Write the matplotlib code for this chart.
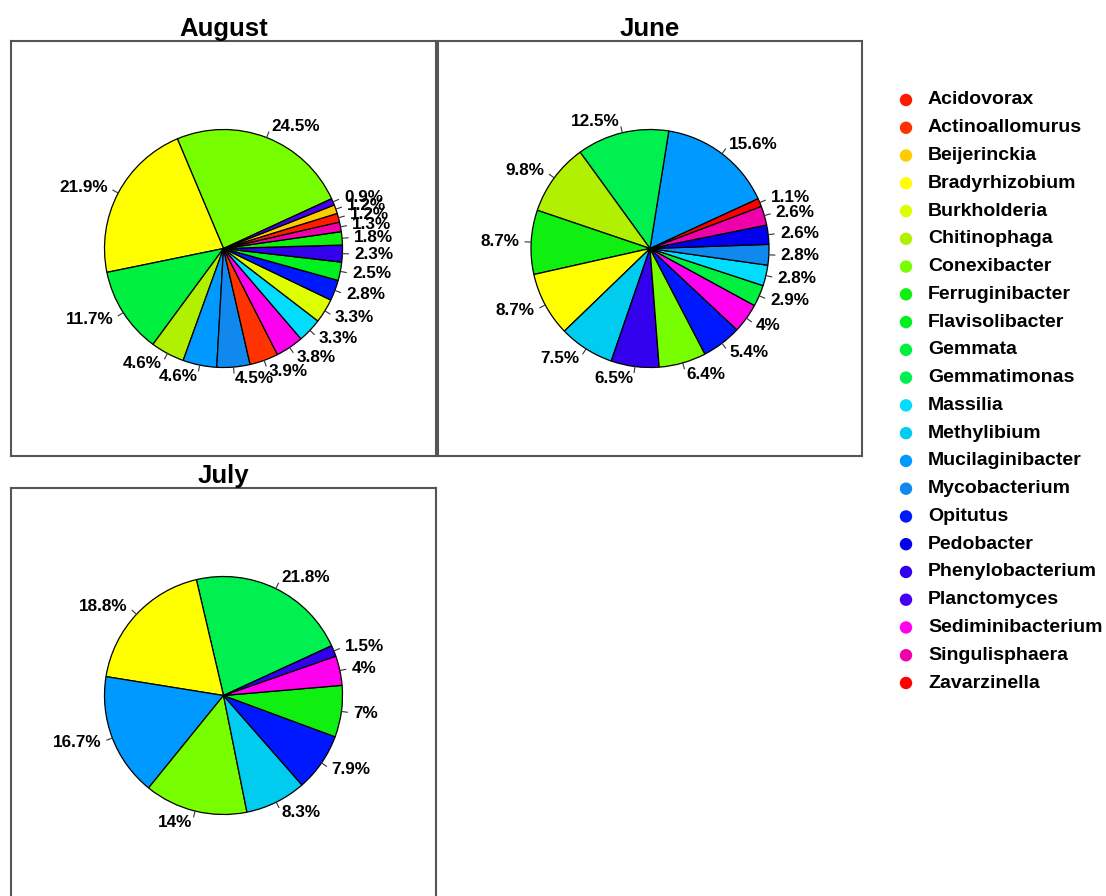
import numpy as np
import matplotlib
matplotlib.use("Agg")
import matplotlib.pyplot as plt

plt.rcParams['font.family'] = ['Liberation Sans', 'DejaVu Sans']
plt.rcParams['font.weight'] = 'bold'

# ---- data ----
genera = ["Acidovorax", "Actinoallomurus", "Beijerinckia", "Bradyrhizobium",
          "Burkholderia", "Chitinophaga", "Conexibacter", "Ferruginibacter",
          "Flavisolibacter", "Gemmata", "Gemmatimonas", "Massilia",
          "Methylibium", "Mucilaginibacter", "Mycobacterium", "Opitutus",
          "Pedobacter", "Phenylobacterium", "Planctomyces",
          "Sediminibacterium", "Singulisphaera", "Zavarzinella"]
genus_colors = ["#FF1A00", "#FF3300", "#FFCC00", "#FFFF00",
                "#DDFF00", "#B0F000", "#77FF00", "#10F010",
                "#00F020", "#00F040", "#00F050", "#00DDFF",
                "#00CCF0", "#0099FF", "#1188EE", "#0018FF",
                "#0000EE", "#3300EE", "#4400EE",
                "#FF00EE", "#EE00AA", "#FF0000"]

august_genera = ["Conexibacter", "Bradyrhizobium", "Gemmata", "Chitinophaga",
                 "Mucilaginibacter", "Mycobacterium", "Actinoallomurus",
                 "Sediminibacterium", "Massilia", "Burkholderia", "Opitutus",
                 "Flavisolibacter", "Phenylobacterium", "Ferruginibacter",
                 "Singulisphaera", "Acidovorax", "Beijerinckia", "Planctomyces"]
august_values = [24.5, 21.9, 11.7, 4.6, 4.6, 4.5, 3.9, 3.8, 3.3, 3.3, 2.8,
                 2.5, 2.3, 1.8, 1.3, 1.2, 1.2, 0.9]

june_genera = ["Mucilaginibacter", "Gemmatimonas", "Chitinophaga",
               "Ferruginibacter", "Bradyrhizobium", "Methylibium",
               "Phenylobacterium", "Conexibacter", "Opitutus",
               "Sediminibacterium", "Gemmata", "Massilia", "Mycobacterium",
               "Pedobacter", "Singulisphaera", "Zavarzinella"]
june_values = [15.6, 12.5, 9.8, 8.7, 8.7, 7.5, 6.5, 6.4, 5.4, 4, 2.9, 2.8,
               2.8, 2.6, 2.6, 1.1]

july_genera = ["Gemmatimonas", "Bradyrhizobium", "Mucilaginibacter",
               "Conexibacter", "Methylibium", "Opitutus", "Ferruginibacter",
               "Sediminibacterium", "Phenylobacterium"]
july_values = [21.8, 18.8, 16.7, 14, 8.3, 7.9, 7, 4, 1.5]

panels = [("August", august_genera, august_values),
          ("June", june_genera, june_values),
          ("July", july_genera, july_values)]

# ---- layout (pixels) ----
W, H = 1106, 896
fig = plt.figure(figsize=(W / 100, H / 100), dpi=100)

boxes = {"August": (11, 41, 425, 415),
         "June": (438, 41, 424, 415),
         "July": (11, 488, 425, 415)}
R_PX = 119.0
cmap = dict(zip(genera, genus_colors))

for title, gens, vals in panels:
    x0, y0, bw, bh = boxes[title]
    ax = fig.add_axes([x0 / W, (H - y0 - bh) / H, bw / W, bh / H])
    labels = [f"{v:g}%" for v in vals]
    wedges, texts = ax.pie(vals, labels=labels, colors=[cmap[g] for g in gens],
                           startangle=24.7, counterclock=True,
                           labeldistance=1.1, radius=1.0, frame=True,
                           wedgeprops=dict(edgecolor="black", linewidth=0.9),
                           textprops=dict(fontsize=12.3, fontweight="bold",
                                          color="black"))
    for w in wedges:
        th = np.deg2rad((w.theta1 + w.theta2) / 2)
        ax.plot([np.cos(th), 1.05 * np.cos(th)],
                [np.sin(th), 1.05 * np.sin(th)], color="#333333", lw=0.8)
    ax.set_aspect("auto")
    ax.set_xlim(-bw / 2 / R_PX, bw / 2 / R_PX)
    ax.set_ylim(-bh / 2 / R_PX, bh / 2 / R_PX)
    ax.set_xticks([])
    ax.set_yticks([])
    for sp in ax.spines.values():
        sp.set_visible(True)
        sp.set_color("#555555")
        sp.set_linewidth(1.5)
    ax.text(0.5, 1 + 5 / bh, title, transform=ax.transAxes, ha="center",
            va="baseline", fontsize=18.5, fontweight="bold", clip_on=False)

# ---- legend ----
lax = fig.add_axes([0, 0, 1, 1])
lax.set_xlim(0, W)
lax.set_ylim(H, 0)
lax.axis("off")
lax.patch.set_alpha(0)
row_y = 100 + np.arange(len(genera)) * (583 / 21)
lax.scatter(np.full(len(genera), 906), row_y, s=80, c=genus_colors,
            edgecolors="none")
for g, yy in zip(genera, row_y):
    lax.text(928, yy, g, ha="left", va="center", fontsize=14,
             fontweight="bold")

fig.savefig("out.png", dpi=100)
